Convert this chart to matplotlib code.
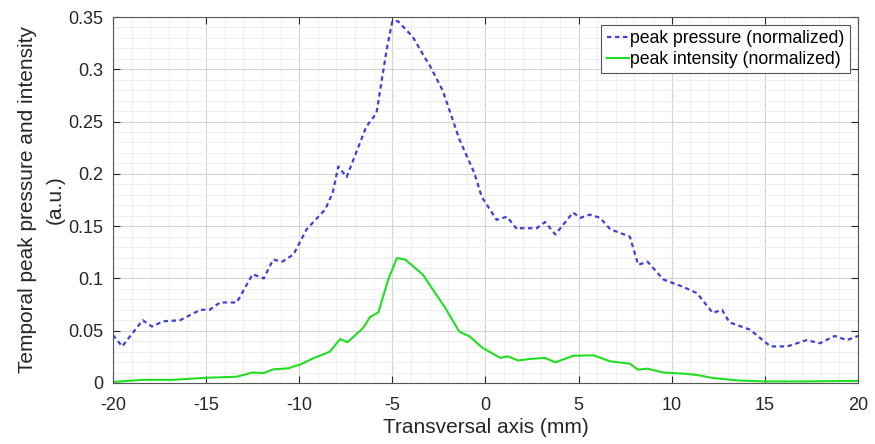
import numpy as np
import matplotlib
matplotlib.use("Agg")
import matplotlib.pyplot as plt
from matplotlib.ticker import MultipleLocator

plt.rcParams['font.family'] = ['Liberation Sans', 'DejaVu Sans']
plt.rcParams['axes.unicode_minus'] = False

# peak pressure profile (normalized) across the transversal axis
x_pressure = [-20, -19.5, -18.4, -17.9, -17.3, -16.4, -15.3, -14.8, -14.25, -13.35,
              -12.5, -11.9, -11.4, -10.9, -10.3, -9.6, -8.6, -8.2, -7.9, -7.45,
              -6.4, -5.85, -5.3, -5.0, -4.7, -3.9, -3.25, -3.0, -2.3, -1.4,
              -0.6, -0.2, 0.6, 1.15, 1.7, 1.85, 2.75, 3.2, 3.75, 4.7,
              5.1, 5.6, 6.15, 6.7, 7.75, 8.2, 8.7, 9.55, 10.6, 11.35,
              12.2, 12.7, 13.1, 14.2, 15.3, 16.2, 17.25, 17.95, 18.75, 19.4, 20]
y_pressure = [0.046, 0.035, 0.060, 0.054, 0.059, 0.060, 0.070, 0.070, 0.077, 0.077,
              0.104, 0.100, 0.118, 0.116, 0.123, 0.147, 0.166, 0.182, 0.207, 0.197,
              0.245, 0.258, 0.319, 0.346, 0.346, 0.331, 0.311, 0.304, 0.280, 0.233,
              0.201, 0.178, 0.156, 0.159, 0.147, 0.148, 0.148, 0.154, 0.142, 0.163,
              0.158, 0.161, 0.158, 0.147, 0.140, 0.113, 0.116, 0.099, 0.092, 0.086,
              0.067, 0.070, 0.058, 0.051, 0.035, 0.035, 0.041, 0.038, 0.045, 0.041, 0.045]

# peak intensity profile (normalized)
x_intensity = [-20, -18.4, -16.8, -15, -13.35, -12.5, -11.9, -11.4, -10.6, -9.9,
               -9.2, -8.9, -8.35, -7.8, -7.4, -6.55, -6.2, -5.75, -5.2, -4.75,
               -4.3, -3.35, -3.0, -2.2, -1.4, -0.85, -0.15, 0.8, 1.2, 1.75,
               2.4, 3.2, 3.75, 4.7, 5.8, 6.7, 7.75, 8.2, 8.7, 9.55,
               10.6, 11.35, 12.2, 13.5, 14.9, 17, 20]
y_intensity = [0.001, 0.003, 0.003, 0.005, 0.006, 0.010, 0.0095, 0.013, 0.014, 0.018,
               0.024, 0.026, 0.030, 0.042, 0.039, 0.053, 0.063, 0.0675, 0.100, 0.1195,
               0.118, 0.1035, 0.094, 0.073, 0.049, 0.0445, 0.0335, 0.024, 0.0255, 0.0215,
               0.023, 0.024, 0.0197, 0.026, 0.0265, 0.0207, 0.0185, 0.0127, 0.0137, 0.010,
               0.009, 0.0077, 0.0048, 0.0025, 0.0015, 0.0015, 0.002]

x_ticks = [-20, -15, -10, -5, 0, 5, 10, 15, 20]
y_ticks = [0, 0.05, 0.1, 0.15, 0.2, 0.25, 0.3, 0.35]
y_ticklabels = ['0', '0.05', '0.1', '0.15', '0.2', '0.25', '0.3', '0.35']

fig = plt.figure(figsize=(8.75, 4.44), dpi=100)
ax = fig.add_axes([0.129, 0.1374, 0.8516, 0.8243])

ax.plot(x_pressure, y_pressure, color='#4040d8', lw=1.6, linestyle=(0, (2, 1.6)),
        label='peak pressure (normalized)')
ax.plot(x_intensity, y_intensity, color='#22dd22', lw=1.5,
        label='peak intensity (normalized)')

ax.set_xlim(-20, 20)
ax.set_ylim(0, 0.35)
ax.set_xticks(x_ticks)
ax.set_yticks(y_ticks)
ax.set_yticklabels(y_ticklabels)
ax.xaxis.set_minor_locator(MultipleLocator(1))
ax.yaxis.set_minor_locator(MultipleLocator(0.01))

ax.grid(which='major', color='#d4d4d4', lw=0.8)
ax.grid(which='minor', color='#ededed', lw=0.6)
ax.set_axisbelow(True)

ax.tick_params(which='both', direction='in', top=True, right=True,
               colors='#262626', labelsize=13)
ax.tick_params(which='major', length=5)
ax.tick_params(axis='x', which='major', pad=10)
ax.tick_params(axis='y', which='major', pad=7)
ax.tick_params(which='minor', length=0)
for sp in ax.spines.values():
    sp.set_color('#555555')
    sp.set_linewidth(0.8)

ax.set_xlabel('Transversal axis (mm)', fontsize=15, color='#262626')
ax.xaxis.set_label_coords(0.5, -0.095)
ax.set_ylabel('Temporal peak pressure and intensity\n(a.u.)', fontsize=15,
              color='#262626', linespacing=1.6)
ax.yaxis.set_label_coords(-0.064, 0.5)

leg = ax.legend(loc='upper right', fontsize=12.7, handlelength=1.25, handletextpad=0.1,
                labelspacing=0.2, borderpad=0.3, borderaxespad=0.45,
                fancybox=False, framealpha=1)
leg.get_frame().set_edgecolor('#555555')
leg.get_frame().set_linewidth(0.8)

fig.savefig('out.png', dpi=100)
